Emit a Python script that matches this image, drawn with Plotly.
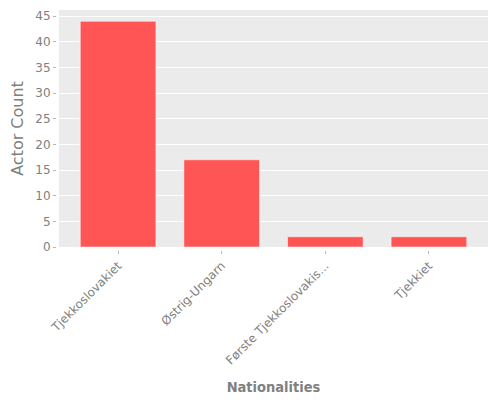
import plotly.graph_objects as go

nationalities = ["Tjekkoslovakiet", "Østrig-Ungarn", "Første Tjekkoslovakis...", "Tjekkiet"]
actor_counts = [44, 17, 2, 2]

fig = go.Figure(
    go.Bar(
        x=nationalities,
        y=actor_counts,
        marker=dict(color="#ff5555", line=dict(color="rgba(255,255,255,0.5)", width=1)),
    )
)

# page body adds 8px, margins are shifted to make up for it
fig.update_layout(
    width=500,
    height=400,
    margin=dict(l=48, r=20, t=2, b=158),
    plot_bgcolor="#ebebeb",
    paper_bgcolor="white",
    bargap=0.27,
    font=dict(family="DejaVu Sans", size=12, color="#808080"),
    showlegend=False,
)

# axes anchored a few px away from the panel so ticks sit detached, ggplot style
fig.update_xaxes(
    title=dict(
        text="<b>Nationalities</b>",
        font=dict(family="DejaVu Sans Condensed, DejaVu Sans", size=14.5, color="#808080"),
    ),
    range=[-0.57, 3.57],
    domain=[0.007, 1],
    anchor="free",
    position=0,
    tickangle=-45,
    ticks="outside",
    ticklen=3,
    tickcolor="#b8b8b8",
    showgrid=False,
    automargin=False,
)
fig.update_yaxes(
    title=dict(text="Actor Count", font=dict(size=16, color="#808080")),
    range=[0, 46.2],
    domain=[0.0125, 1],
    anchor="free",
    position=0,
    dtick=5,
    ticks="outside",
    ticklen=3,
    tickcolor="#b8b8b8",
    gridcolor="white",
    zeroline=False,
    automargin=False,
)

fig.write_html("out.html")
